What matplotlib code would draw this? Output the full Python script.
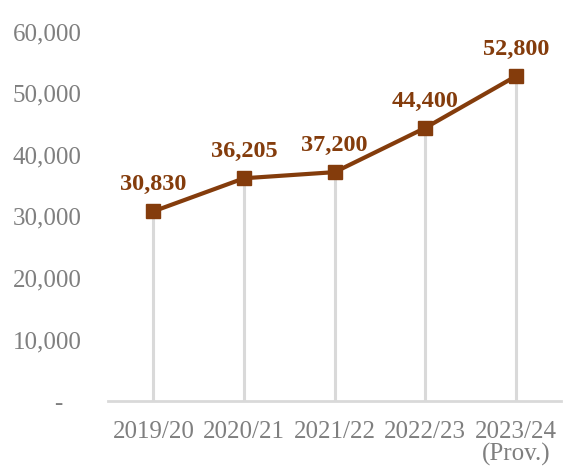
import matplotlib.pyplot as plt

years = ["2019/20", "2020/21", "2021/22", "2022/23", "2023/24\n(Prov.)"]
values = [30830, 36205, 37200, 44400, 52800]
yticks = [0, 10000, 20000, 30000, 40000, 50000, 60000]

brown = "#843C0C"
grey_text = "#7F7F7F"
grey_line = "#D9D9D9"

plt.rcParams['font.family'] = ['Liberation Serif', 'DejaVu Serif']

fig = plt.figure(figsize=(5.63, 4.68), dpi=100)
ax = fig.add_axes([0.192, 0.143, 0.805, 0.789])

x = list(range(len(years)))
ax.vlines(x, 0, values, color=grey_line, linewidth=2.2, zorder=1)
ax.plot(x, values, color=brown, linewidth=3, marker="s", markersize=10, zorder=3)

for xi, v in zip(x, values):
    ax.annotate(f"{v:,}", (xi, v), xytext=(0, 11.5), textcoords="offset points",
                ha="center", va="bottom", fontsize=17.5, fontweight="bold", color=brown)

ax.set_xlim(-0.5, 4.5)
ax.set_ylim(0, 60000)
ax.set_yticks(yticks)
# zero shows as a dash, set in a little from the right edge
ax.set_yticklabels(["-   " if t == 0 else f"{t:,}" for t in yticks])
ax.set_xticks(x)
ax.set_xticklabels(years, linespacing=1.05)

for s in ["top", "right", "left"]:
    ax.spines[s].set_visible(False)
ax.spines["bottom"].set_color(grey_line)
ax.spines["bottom"].set_linewidth(2)
ax.tick_params(axis="both", length=0, labelsize=18, colors=grey_text)
ax.tick_params(axis="y", pad=19)
ax.tick_params(axis="x", pad=14)

fig.savefig("out.png", dpi=100)
